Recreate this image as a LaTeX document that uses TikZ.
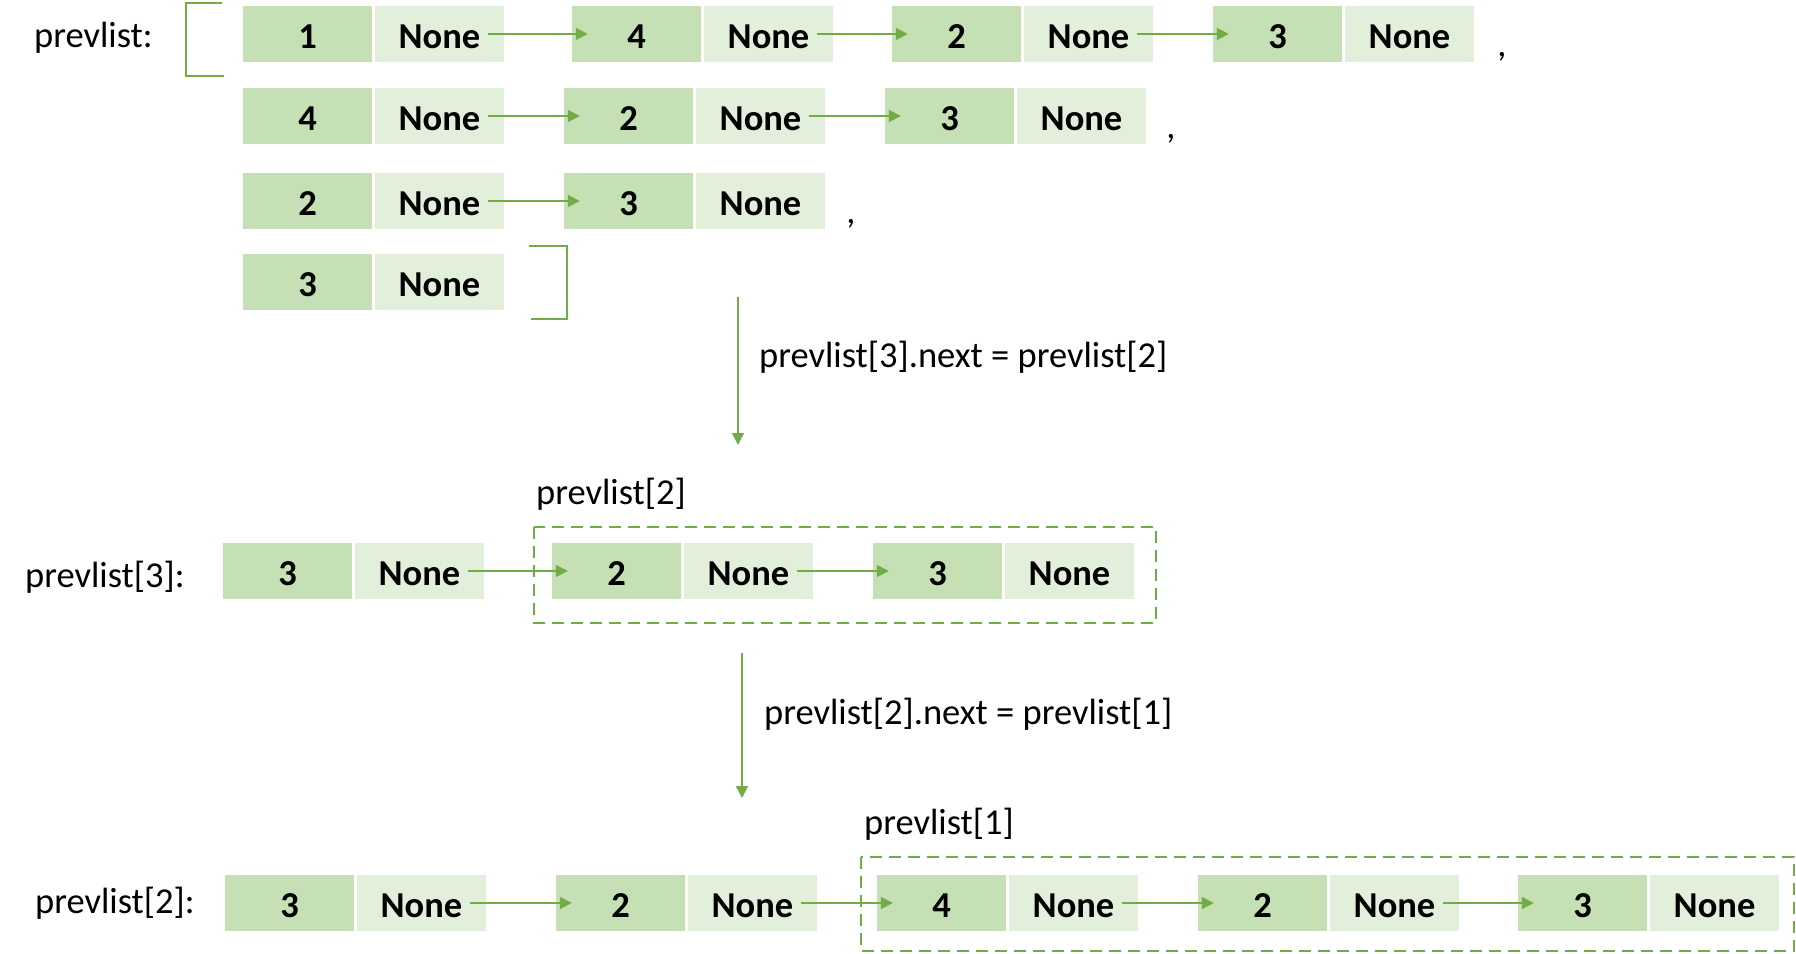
\documentclass[tikz,border=0pt]{standalone}
\usepackage{fontspec}
\setmainfont{Carlito}
\usetikzlibrary{arrows.meta,calc}
\definecolor{dkc}{HTML}{C5E0B4}
\definecolor{ltc}{HTML}{E2EFDA}
\definecolor{gr}{HTML}{70AD47}
\newcommand\cellpair[4]{%
  \node[dk] (#1n) at (#2+64.5,#3) {#4};
  \node[lt] (#1v) at (#2+196.5,#3) {None};}
\newcommand\linkarrow[2]{\draw[arr] ($(#1v.east)+(-16,0)$) -- ($(#2n.west)+(16,0)$);}
\begin{document}
\begin{tikzpicture}[x=1pt,y=-1pt,
  cellbase/.style={minimum width=129pt,minimum height=56pt,inner sep=0pt,
    text height=29pt,text depth=0pt,
    font=\fontsize{36.5}{44}\selectfont\bfseries},
  dk/.style={cellbase,fill=dkc},
  lt/.style={cellbase,fill=ltc},
  lbl/.style={anchor=base west,inner sep=0pt,font=\fontsize{36.5}{44}\selectfont},
  commalbl/.style={anchor=base,inner sep=0pt,font=\fontsize{36.5}{44}\selectfont},
  arr/.style={draw=gr,line width=1.5pt,-{Triangle[length=12pt,width=12pt]},fill=gr},
  brk/.style={draw=gr,line width=1.4pt},
  dbox/.style={draw=gr,line width=2pt,dash pattern=on 12pt off 7pt}]
\useasboundingbox (0,0) rectangle (1796,953);
% labels
\node[lbl] (lp) at (34,47) {prevlist:};
\node[lbl] (lp3) at (25,587) {prevlist[3]:};
\node[lbl] (lp2) at (35,913) {prevlist[2]:};
\node[lbl] (lb2) at (536,504) {prevlist[2]};
\node[lbl] (lb1) at (864,834) {prevlist[1]};
\node[lbl] (op1) at (759,367) {prevlist[3].next = prevlist[2]};
\node[lbl] (op2) at (764,724) {prevlist[2].next = prevlist[1]};
% brackets
\draw[brk] (222,3) -- (186,3) -- (186,76) -- (224,76);
\draw[brk] (529,246) -- (567,246) -- (567,319) -- (531,319);
% row 1
\cellpair{ra}{243}{34}{1}
\cellpair{rb}{572}{34}{4}
\cellpair{rc}{892}{34}{2}
\cellpair{rd}{1213}{34}{3}
\linkarrow{ra}{rb}\linkarrow{rb}{rc}\linkarrow{rc}{rd}
\node[commalbl] (c1) at (1502,56) {,};
% row 2
\cellpair{sa}{243}{116}{4}
\cellpair{sb}{564}{116}{2}
\cellpair{sc}{885}{116}{3}
\linkarrow{sa}{sb}\linkarrow{sb}{sc}
\node[commalbl] (c2) at (1171,138) {,};
% row 3
\cellpair{ta}{243}{201}{2}
\cellpair{tb}{564}{201}{3}
\linkarrow{ta}{tb}
\node[commalbl] (c3) at (851,223) {,};
% row 4
\cellpair{ua}{243}{282}{3}
% vertical arrow 1
\coordinate (v1s) at (738,297);
\coordinate (v1e) at (738,445);
\draw[arr] (v1s) -- (v1e);
% row 5
\cellpair{wa}{223}{571}{3}
\cellpair{wb}{552}{571}{2}
\cellpair{wc}{873}{571}{3}
\linkarrow{wa}{wb}\linkarrow{wb}{wc}
\draw[dbox] (534,527) rectangle (1156,623);
% vertical arrow 2
\coordinate (v2s) at (742,653);
\coordinate (v2e) at (742,798);
\draw[arr] (v2s) -- (v2e);
% row 6
\cellpair{xa}{225}{903}{3}
\cellpair{xb}{556}{903}{2}
\cellpair{xc}{877}{903}{4}
\cellpair{xd}{1198}{903}{2}
\cellpair{xe}{1518}{903}{3}
\linkarrow{xa}{xb}\linkarrow{xb}{xc}\linkarrow{xc}{xd}\linkarrow{xd}{xe}
\draw[dbox] (861,857) rectangle (1794,951);
\end{tikzpicture}
\end{document}
